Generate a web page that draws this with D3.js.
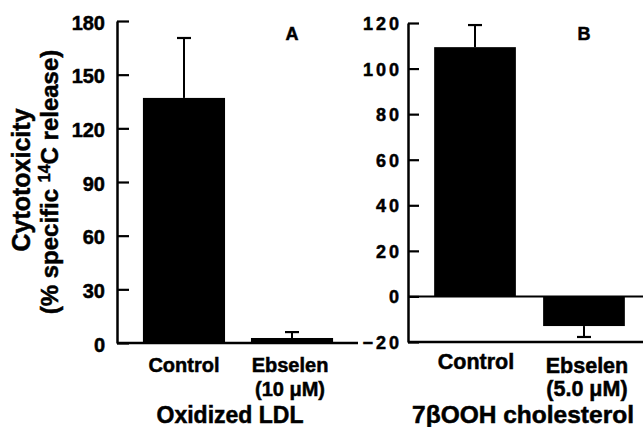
<!DOCTYPE html>
<html>
<head>
<meta charset="utf-8">
<script src="https://d3js.org/d3.v7.min.js"></script>
<style>
  body { margin: 0; background: #fff; }
  svg text { font-family: "Liberation Sans", Arial, Helvetica, sans-serif; font-weight: bold; fill: #000; stroke: #000; stroke-width: 0.5px; }
</style>
</head>
<body>
<div id="chart"></div>
<script>
  const w = 643, h = 427

  // panel A: oxidized LDL
  const groupsA = ["Control", "Ebselen"]
  const subA = ["", "(10 \u03bcM)"]
  const valuesA = [137, 2.8]
  const errorsA = [33.5, 3.3]
  const ticksA = [0, 30, 60, 90, 120, 150, 180]

  // panel B: 7bOOH cholesterol
  const groupsB = ["Control", "Ebselen"]
  const subB = ["", "(5.0 \u03bcM)"]
  const valuesB = [109.4, -13]
  const errorsB = [9.7, 4.8]
  const ticksB = [-20, 0, 20, 40, 60, 80, 100, 120]

  const svg = d3.select("#chart")
    .append("svg")
    .attr("width", w)
    .attr("height", h)

  function panel(opt) {
    const x = d3.scaleBand()
      .domain(opt.groups)
      .range(opt.xr)
      .paddingInner(opt.pad)
      .paddingOuter(0.24)

    const y = d3.scaleLinear()
      .domain(opt.domain)
      .range(opt.yr)

    const g = svg.append("g")

    // y axis, ticks pointing inward
    const yAxis = d3.axisLeft(y)
      .tickValues(opt.ticks)
      .tickSizeInner(-opt.tick)
      .tickSizeOuter(0)
      .tickPadding(opt.padLabel)

    const ya = g.append("g")
      .attr("transform", `translate(${opt.xr[0]},0)`)
      .call(yAxis)
    ya.select(".domain").attr("stroke-width", 2.5)
    ya.selectAll(".tick line").attr("stroke-width", 2.2)
    ya.selectAll(".tick text")
      .attr("font-size", opt.tickFont)
      .attr("font-family", "Liberation Sans, Arial, sans-serif")
      .attr("font-weight", "bold")
      .attr("dy", opt.tickDy)
      .style("letter-spacing", opt.spacing + "px")

    // bottom axis line
    g.append("line")
      .attr("x1", opt.xr[0]).attr("x2", opt.xEnd)
      .attr("y1", y(opt.domain[0])).attr("y2", y(opt.domain[0]))
      .attr("stroke", "#000").attr("stroke-width", 2.5)

    // zero line
    if (opt.domain[0] < 0) {
      g.append("line")
        .attr("x1", opt.xr[0]).attr("x2", opt.xEnd)
        .attr("y1", y(0)).attr("y2", y(0))
        .attr("stroke", "#000").attr("stroke-width", 2)
    }

    // bars
    g.selectAll("rect.bar")
      .data(opt.values)
      .join("rect")
        .attr("class", "bar")
        .attr("x", (d, i) => x(opt.groups[i]))
        .attr("width", x.bandwidth())
        .attr("y", d => y(Math.max(0, d)))
        .attr("height", d => Math.abs(y(d) - y(0)))
        .attr("fill", "#000")

    // error bars (one side, away from zero)
    opt.values.forEach((v, i) => {
      const cx = x(opt.groups[i]) + x.bandwidth() / 2
      const end = v >= 0 ? v + opt.errors[i] : v - opt.errors[i]
      g.append("line")
        .attr("x1", cx).attr("x2", cx)
        .attr("y1", y(v)).attr("y2", y(end))
        .attr("stroke", "#000").attr("stroke-width", 2)
      g.append("line")
        .attr("x1", cx - 7).attr("x2", cx + 7)
        .attr("y1", y(end)).attr("y2", y(end))
        .attr("stroke", "#000").attr("stroke-width", 2.2)
    })

    // category labels
    opt.groups.forEach((c, i) => {
      const cx = x(c) + x.bandwidth() / 2
      g.append("text")
        .attr("x", cx + opt.labelShift[i])
        .attr("y", opt.labelY[i])
        .attr("text-anchor", "middle")
        .attr("font-size", opt.labelFont)
        .text(c)
      if (opt.subs[i]) {
        g.append("text")
          .attr("x", cx + opt.labelShift[i])
          .attr("y", 396)
          .attr("text-anchor", "middle")
          .attr("font-size", opt.labelFont)
          .text(opt.subs[i])
      }
    })

    // group title
    g.append("text")
      .attr("x", opt.titleX)
      .attr("y", 423)
      .attr("text-anchor", "middle")
      .attr("font-size", opt.titleFont)
      .text(opt.title)

    // panel letter
    g.append("text")
      .attr("x", opt.letterX)
      .attr("y", 40)
      .attr("text-anchor", "middle")
      .attr("font-size", 18)
      .text(opt.letter)
  }

  panel({
    groups: groupsA, subs: subA, values: valuesA, errors: errorsA, ticks: ticksA,
    domain: [0, 180], xr: [117, 359], xEnd: 358, yr: [343, 21], pad: 0.24,
    tick: 12, padLabel: 12, tickFont: 20, tickDy: "0.4em", spacing: 0,
    labelShift: [0, -2], labelY: [372, 372], labelFont: 20,
    title: "Oxidized LDL", titleX: 230, titleFont: 23, letter: "A", letterX: 292
  })

  panel({
    groups: groupsB, subs: subB, values: valuesB, errors: errorsB, ticks: ticksB,
    domain: [-20, 120], xr: [408, 651], xEnd: 643, yr: [342, 23], pad: 0.25,
    tick: 11, padLabel: 6, tickFont: 18, tickDy: "0.36em", spacing: 3,
    labelShift: [1, 3], labelY: [369, 373], labelFont: 21.5,
    title: "7\u03b2OOH cholesterol", titleX: 523, titleFont: 24.5, letter: "B", letterX: 584
  })

  // y axis title
  svg.append("text")
    .attr("transform", "translate(30,180) rotate(-90)")
    .attr("text-anchor", "middle")
    .attr("font-size", 25)
    .text("Cytotoxicity")

  const yt2 = svg.append("text")
    .attr("transform", "translate(58,182) rotate(-90)")
    .attr("text-anchor", "middle")
    .attr("font-size", 24)
  yt2.append("tspan").text("(% specific ")
  yt2.append("tspan").attr("font-size", 16).attr("dy", -8).text("14")
  yt2.append("tspan").attr("dy", 8).text("C release)")
</script>
</body>
</html>
